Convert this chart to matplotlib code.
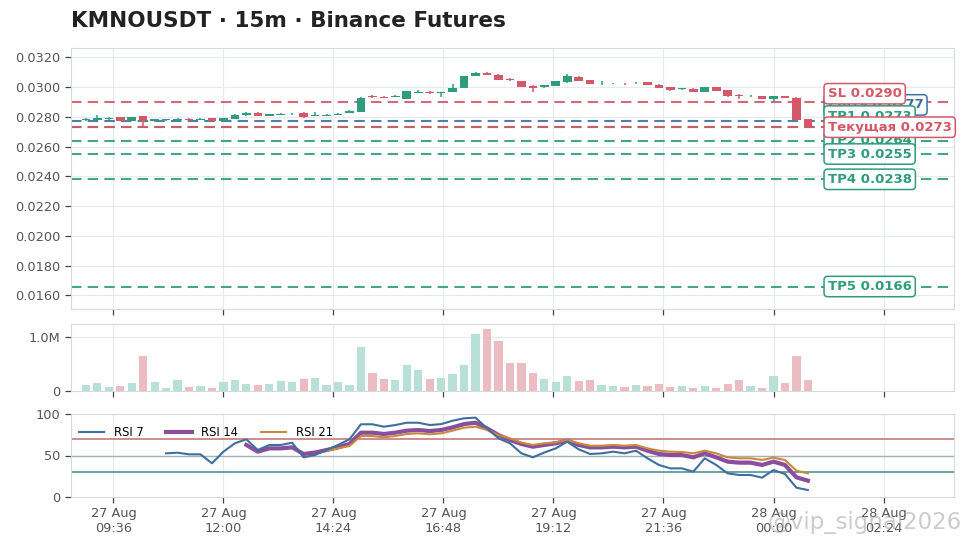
import matplotlib
matplotlib.use("Agg")
import matplotlib.pyplot as plt
import matplotlib.dates as mdates
import numpy as np
import pandas as pd

# ---------------- data ----------------
title = "KMNOUSDT · 15m · Binance Futures"
start_time = "2025-08-27 09:00"
n_candles = 64

open_ = [0.02777, 0.02779, 0.02782, 0.02797, 0.02775, 0.02804, 0.02774, 0.02779, 0.02779, 0.02786,
         0.02779, 0.02791, 0.02772, 0.02787, 0.02809, 0.02827, 0.02805, 0.02815, 0.02818, 0.02827,
         0.02804, 0.02808, 0.02815, 0.02827, 0.02831, 0.02937, 0.02933, 0.02933, 0.02920, 0.02960,
         0.02966, 0.02958, 0.02967, 0.02996, 0.03075, 0.03094, 0.03083, 0.03055, 0.03037, 0.03009,
         0.02997, 0.03008, 0.03031, 0.03070, 0.03044, 0.03024, 0.03026, 0.03028, 0.03024, 0.03031,
         0.03015, 0.02998, 0.02985, 0.02987, 0.02969, 0.03000, 0.02978, 0.02949, 0.02938, 0.02937,
         0.02922, 0.02937, 0.02929, 0.02782]
high = [0.02790, 0.02809, 0.02800, 0.02800, 0.02800, 0.02806, 0.02788, 0.02788, 0.02792, 0.02792,
        0.02792, 0.02793, 0.02792, 0.02818, 0.02830, 0.02830, 0.02820, 0.02824, 0.02825, 0.02829,
        0.02829, 0.02816, 0.02826, 0.02845, 0.02930, 0.02947, 0.02937, 0.02944, 0.02974, 0.02981,
        0.02971, 0.02968, 0.03020, 0.03074, 0.03100, 0.03100, 0.03086, 0.03062, 0.03040, 0.03012,
        0.03015, 0.03040, 0.03089, 0.03073, 0.03046, 0.03038, 0.03030, 0.03030, 0.03033, 0.03033,
        0.03017, 0.03000, 0.02995, 0.02990, 0.03000, 0.03002, 0.02980, 0.02952, 0.02946, 0.02939,
        0.02940, 0.02940, 0.02931, 0.02784]
low = [0.02774, 0.02776, 0.02780, 0.02770, 0.02772, 0.02727, 0.02770, 0.02775, 0.02772, 0.02775,
       0.02776, 0.02771, 0.02770, 0.02785, 0.02806, 0.02803, 0.02803, 0.02812, 0.02815, 0.02794,
       0.02802, 0.02805, 0.02812, 0.02825, 0.02829, 0.02925, 0.02926, 0.02931, 0.02918, 0.02958,
       0.02955, 0.02933, 0.02965, 0.02994, 0.03072, 0.03078, 0.03048, 0.03040, 0.02998, 0.02965,
       0.02994, 0.03006, 0.03029, 0.03038, 0.03020, 0.03012, 0.03023, 0.03016, 0.03021, 0.03013,
       0.02991, 0.02970, 0.02980, 0.02966, 0.02967, 0.02973, 0.02936, 0.02920, 0.02934, 0.02920,
       0.02900, 0.02923, 0.02775, 0.02727]
close = [0.02786, 0.02790, 0.02792, 0.02771, 0.02797, 0.02771, 0.02784, 0.02783, 0.02784, 0.02780,
         0.02786, 0.02773, 0.02789, 0.02815, 0.02827, 0.02805, 0.02818, 0.02820, 0.02822, 0.02796,
         0.02811, 0.02813, 0.02822, 0.02842, 0.02927, 0.02933, 0.02929, 0.02940, 0.02972, 0.02963,
         0.02962, 0.02966, 0.02995, 0.03071, 0.03094, 0.03080, 0.03050, 0.03045, 0.03000, 0.02993,
         0.03011, 0.03037, 0.03071, 0.03040, 0.03022, 0.03028, 0.03028, 0.03024, 0.03030, 0.03015,
         0.02993, 0.02982, 0.02990, 0.02969, 0.02998, 0.02975, 0.02938, 0.02937, 0.02941, 0.02922,
         0.02937, 0.02925, 0.02777, 0.02730]

volume_m = [0.11, 0.145, 0.07, 0.09, 0.145, 0.64, 0.16, 0.05, 0.20, 0.07,
            0.09, 0.06, 0.16, 0.20, 0.13, 0.11, 0.13, 0.18, 0.16, 0.22,
            0.24, 0.11, 0.16, 0.11, 0.81, 0.33, 0.22, 0.20, 0.47, 0.38,
            0.22, 0.24, 0.31, 0.48, 1.05, 1.14, 0.93, 0.52, 0.52, 0.33,
            0.23, 0.16, 0.27, 0.18, 0.20, 0.11, 0.09, 0.07, 0.11, 0.09,
            0.13, 0.07, 0.09, 0.06, 0.09, 0.05, 0.13, 0.20, 0.09, 0.05,
            0.27, 0.145, 0.64, 0.20]

rsi7 = [52.6, 53.4, 51.4, 51.4, 40.6, 54.6, 64.7, 69.5, 56.6, 62.7,
        62.7, 65.4, 47.8, 50.6, 56.6, 62.7, 69.5, 87.6, 87.6, 84.7,
        86.7, 89.5, 89.5, 86.7, 87.8, 91.9, 94.8, 95.6, 82.7, 70.7,
        64.7, 52.6, 47.8, 53.6, 58.6, 66.7, 57.4, 51.8, 52.6, 54.6,
        52.6, 55.8, 46.6, 38.6, 34.5, 34.5, 30.5, 46.6, 38.6, 28.5,
        26.5, 26.5, 23.3, 32.5, 27.7, 11.2, 8.4]          # from candle 7
rsi14 = [62.7, 54.6, 58.6, 58.6, 59.8, 51.8, 53.6, 56.6, 59.8, 63.9,
         77.5, 77.5, 75.9, 77.5, 79.9, 80.7, 79.5, 80.7, 83.9, 87.9,
         89.5, 82.7, 74.7, 68.7, 63.9, 60.6, 62.7, 64.7, 67.9, 62.7,
         59.8, 59.8, 60.6, 59.8, 60.6, 55.8, 51.8, 50.6, 50.6, 47.8,
         52.6, 47.8, 42.6, 41.4, 41.4, 38.6, 42.6, 38.6, 23.7, 19.7]  # from candle 14
rsi21 = [55.8, 58.6, 61.5, 73.5, 73.5, 71.9, 73.5, 75.9, 76.7, 75.5,
         76.7, 79.9, 83.5, 84.7, 80.7, 74.7, 70.7, 65.5, 62.7, 64.7,
         65.9, 68.7, 64.7, 61.8, 61.8, 62.7, 61.8, 62.7, 58.6, 55.8,
         54.6, 54.2, 52.6, 55.8, 52.6, 47.8, 46.6, 46.6, 44.6, 47.4,
         44.6, 31.7, 28.5]                                  # from candle 21

level_names = ["SL", "Entry", "TP1", "Текущая", "TP2", "TP3", "TP4", "TP5"]
level_values = [0.0290, 0.0277, 0.0273, 0.0273, 0.0264, 0.0255, 0.0238, 0.0166]
level_kinds = ["red", "blue", "green", "red", "green", "green", "green", "green"]

tick_start = "2025-08-27 09:36"
tick_count = 8
tick_step = "144min"
price_ticks = [0.0160, 0.0180, 0.0200, 0.0220, 0.0240, 0.0260, 0.0280, 0.0300, 0.0320]
rsi_levels = [70, 50, 30]
watermark = "@vip_signal2026"

# ---------------- style ----------------
GREEN = "#2f9c7a"
RED = "#d45868"
BLUE = "#3e6f9e"
VOL_GREEN = "#b9e0d6"
VOL_RED = "#ecbcc3"
GRID = "#e4ebef"
SPINE = "#d3dbe0"
TXT = "#555555"
kind_color = {"red": RED, "blue": BLUE, "green": GREEN}

plt.rcParams["font.family"] = ["DejaVu Sans"]

W, H = 971, 548
fig = plt.figure(figsize=(W / 100, H / 100), dpi=100)

def rect(l, t, r, b):
    return [l / W, 1 - b / H, (r - l) / W, (b - t) / H]

ax = fig.add_axes(rect(71, 48, 954, 309))
axv = fig.add_axes(rect(71, 324, 954, 391), sharex=ax)
axr = fig.add_axes(rect(71, 414, 954, 497), sharex=ax)

times = pd.date_range(start_time, periods=n_candles, freq="15min")
x = mdates.date2num(times.to_pydatetime())
step = 15 / 1440.0

o = np.array(open_); h = np.array(high); l = np.array(low); c = np.array(close)
up = c >= o
cols = np.where(up, GREEN, RED)

for a in (ax, axv, axr):
    a.set_facecolor("white")
    a.grid(True, color=GRID, lw=0.8, zorder=0)
    a.set_axisbelow(True)
    for s in a.spines.values():
        s.set_color(SPINE)
        s.set_linewidth(0.8)
    a.tick_params(axis="both", colors="#444444", labelcolor=TXT, labelsize=9.3,
                  length=4, width=0.9, direction="out")

# candles
ax.vlines(x, l, h, colors=cols, lw=1.1, zorder=3)
body = np.maximum(np.abs(c - o), 0.00004)
ax.bar(x, body, bottom=np.minimum(o, c), width=step * 0.75, color=cols, zorder=4, linewidth=0)

# level lines
for name, val, kind in zip(level_names, level_values, level_kinds):
    ax.axhline(val, color=kind_color[kind], lw=1.5, ls=(0, (5, 3)), alpha=0.9, zorder=2)

# label placement: push labels upward from the bottom so they keep a minimum gap
gap = 0.00075
order = [7, 6, 5, 4, 3, 2, 1, 0]
label_y = {}
prev = -1
for k in order:
    yv = level_values[k]
    if prev > 0:
        yv = max(yv, prev + gap)
    label_y[k] = yv
    prev = yv
zorders = {"SL": 7, "Entry": 5, "TP1": 6, "Текущая": 8, "TP2": 5, "TP3": 6, "TP4": 6, "TP5": 6}
for k, name in enumerate(level_names):
    col = kind_color[level_kinds[k]]
    ax.text(0.857, label_y[k], f"{name} {level_values[k]:.4f}", transform=ax.get_yaxis_transform(),
            ha="left", va="center", fontsize=9.5, fontweight="bold", color=col, zorder=zorders[name],
            bbox=dict(boxstyle="round,pad=0.28", fc="white", ec=col, lw=1.1))

ax.set_ylim(0.01509, 0.03262)
ax.set_yticks(price_ticks)
ax.yaxis.set_major_formatter(matplotlib.ticker.FormatStrFormatter("%.4f"))

# volume
vcols = np.where(up, VOL_GREEN, VOL_RED)
axv.bar(x, np.array(volume_m) * 1e6, width=step * 0.72, color=vcols, zorder=3, linewidth=0)
axv.set_ylim(0, 1.234e6)
axv.set_yticks([0, 1e6])
axv.set_yticklabels(["0", "1.0M"])

# RSI
axr.plot(x[7:], rsi7, color=BLUE, lw=1.5, label="RSI 7", zorder=4)
axr.plot(x[14:], rsi14, color="#8a4f9c", lw=3, label="RSI 14", zorder=3)
axr.plot(x[21:], rsi21, color="#c98a3e", lw=1.5, label="RSI 21", zorder=3)
axr.axhline(rsi_levels[0], color="#c98484", lw=1.3, zorder=2)
axr.axhline(rsi_levels[1], color="#a3b3b3", lw=1.0, zorder=2)
axr.axhline(rsi_levels[2], color="#5a9d9d", lw=1.3, zorder=2)
axr.set_ylim(0, 100)
axr.set_yticks([0, 50, 100])
axr.legend(loc="upper left", ncol=3, frameon=False, fontsize=8.3, handlelength=2.2,
           columnspacing=2.0, borderaxespad=0.3, bbox_to_anchor=(0.0, 0.95))

# x axis
ticks = pd.date_range(tick_start, periods=tick_count, freq=tick_step)
axr.set_xticks(mdates.date2num(ticks.to_pydatetime()))
axr.set_xticklabels([t.strftime("%d %b\n%H:%M") for t in ticks])
ax.set_xlim(x[0] - 1.3 * step, x[-1] + 12.75 * step)
plt.setp(ax.get_xticklabels(), visible=False)
plt.setp(axv.get_xticklabels(), visible=False)
axr.tick_params(axis="x", labelsize=9.3, pad=3)

fig.text(71 / W, 1 - 21 / H, title, fontsize=15.5, fontweight="bold", color="#222222",
         ha="left", va="center")

# watermark
fig.text(962 / W, 1 - 523 / H, watermark, fontsize=16.5, color="#9a9a9a", alpha=0.5,
         ha="right", va="center")

fig.savefig("out.png", dpi=100)
